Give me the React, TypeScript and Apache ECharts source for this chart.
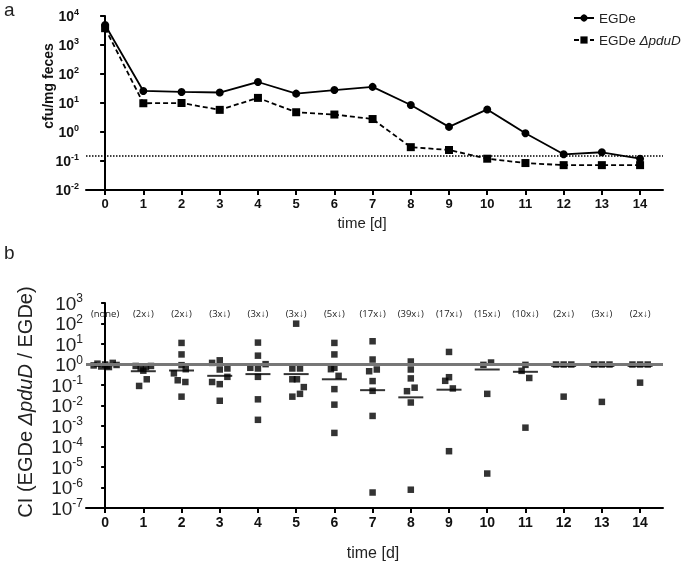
import React, { useEffect, useRef } from "react";
import * as echarts from "echarts";

const days = [0, 1, 2, 3, 4, 5, 6, 7, 8, 9, 10, 11, 12, 13, 14];
const egde = [4900, 26, 24, 23, 53, 21, 28, 36, 8.5, 1.5, 6, 0.9, 0.17, 0.2, 0.12];
const pduD = [3800, 9.8, 10, 5.8, 15, 4.8, 4.0, 2.8, 0.3, 0.24, 0.12, 0.085, 0.072, 0.072, 0.072];
const detectionLimit = 0.15;

const ciValues: number[][] = [
  [0.9, 1.1, 0.8, 1.0, 0.75, 1.2, 0.95, 0.85],
  [0.85, 0.7, 0.5, 0.75, 0.85, 0.19, 0.09],
  [11.3, 3.1, 0.93, 0.59, 0.37, 0.17, 0.14, 0.027],
  [1.2, 1.6, 0.57, 0.64, 0.14, 0.11, 0.017, 0.25],
  [11.7, 2.7, 1.04, 0.69, 0.64, 0.25, 0.02, 0.002],
  [98, 0.64, 0.64, 0.19, 0.19, 0.079, 0.037, 0.027],
  [11.3, 3.1, 0.69, 0.59, 0.28, 0.063, 0.011, 0.00046],
  [13.6, 1.75, 0.47, 0.57, 0.155, 0.052, 0.0031, 5.7e-7],
  [1.4, 0.57, 0.21, 0.05, 0.074, 0.014, 7.8e-7],
  [4.1, 0.24, 0.16, 0.068, 5.9e-5],
  [0.96, 1.25, 0.037, 4.8e-6],
  [0.96, 0.49, 0.22, 0.00083],
  [1.0, 1.0, 1.0, 0.027],
  [1.0, 1.0, 1.0, 0.015],
  [1.0, 1.0, 1.0, 0.13],
];
const ciOffsets: number[][] = [
  [-0.3, -0.2, -0.1, 0, 0.1, 0.2, 0.3, 0.05],
  [-0.2, -0.07, 0, 0.07, 0.2, 0.09, -0.11],
  [0, 0, 0, 0.11, -0.2, -0.1, 0.1, 0],
  [-0.2, 0, 0, 0.2, -0.2, 0, 0, 0.2],
  [0, 0, 0.2, -0.2, 0, 0, 0, 0],
  [0, -0.1, 0.1, -0.1, 0.02, 0.2, 0.1, -0.1],
  [0, 0, 0, -0.09, 0.11, 0, 0, 0],
  [0, 0, -0.09, 0.11, 0, 0, 0, 0],
  [0, 0, 0, -0.1, 0.1, 0, 0],
  [0, 0, -0.1, 0.1, 0],
  [-0.1, 0.1, 0, 0],
  [0, -0.1, 0.1, 0],
  [-0.2, 0, 0.2, 0],
  [-0.2, 0, 0.2, 0],
  [-0.2, 0, 0.2, 0],
];
const ciMedians = [0.93, 0.47, 0.51, 0.28, 0.34, 0.34, 0.19, 0.056, 0.025, 0.059, 0.57, 0.44, 0.85, 0.85, 0.85];
const ciNotes = ["(none)", "(2x↓)", "(2x↓)", "(3x↓)", "(3x↓)", "(3x↓)", "(5x↓)", "(17x↓)", "(39x↓)", "(17x↓)", "(15x↓)", "(10x↓)", "(2x↓)", "(3x↓)", "(2x↓)"];

const FONT = "'Liberation Sans', Arial, sans-serif";

const powLabel = (v: number) => {
  const e = Math.round(Math.log10(v));
  return `{b|10}{s|${e}}`;
};

export default function App() {
  const ref = useRef<HTMLDivElement>(null);
  useEffect(() => {
    if (!ref.current) return;
    const chart = echarts.init(ref.current, null, { renderer: "svg" });
    const xBase = (grid: number, fontSize: number) => ({
      type: "value",
      gridIndex: grid,
      min: -0.5,
      max: 14.6,
      splitLine: { show: false },
      axisLine: { show: true, lineStyle: { color: "#000", width: 2 } },
      axisTick: { show: true, customValues: days, length: 5, lineStyle: { color: "#000", width: 2 } },
      axisLabel: { customValues: days, color: "#111", fontWeight: "bold", fontSize, fontFamily: FONT, margin: 7 },
    });
    const option: any = {
      animation: false,
      textStyle: { fontFamily: FONT },
      grid: [
        { left: 86, right: 22, top: 16, height: 174 },
        { left: 86, right: 22, top: 303, height: 205 },
      ],
      xAxis: [
        xBase(0, 13),
        xBase(1, 14),
        {
          type: "value",
          gridIndex: 1,
          position: "top",
          min: -0.5,
          max: 14.6,
          splitLine: { show: false },
          axisLine: { show: false },
          axisTick: { show: false },
          axisLabel: {
            inside: true,
            customValues: days,
            formatter: (v: number) => ciNotes[Math.round(v)] ?? "",
            fontSize: 9.5,
            color: "#222",
            fontFamily: "'Open Sans', sans-serif",
            margin: 5,
          },
        },
      ],
      yAxis: [
        {
          type: "log",
          gridIndex: 0,
          min: 0.01,
          max: 10000,
          interval: 1,
          splitLine: { show: false },
          axisLine: { show: true, lineStyle: { color: "#000", width: 2 } },
          axisTick: { show: true, length: 5, lineStyle: { color: "#000", width: 2 } },
          axisLabel: {
            formatter: powLabel,
            margin: 7,
            rich: {
              b: { fontSize: 14, fontWeight: "bold", color: "#111", fontFamily: FONT, lineHeight: 17 },
              s: { fontSize: 9, fontWeight: "bold", color: "#111", fontFamily: FONT, verticalAlign: "top", lineHeight: 10 },
            },
          },
        },
        {
          type: "log",
          gridIndex: 1,
          min: 1e-7,
          max: 1000,
          interval: 1,
          splitLine: { show: false },
          axisLine: { show: true, lineStyle: { color: "#000", width: 2 } },
          axisTick: { show: true, length: 4, lineStyle: { color: "#000", width: 2 } },
          axisLabel: {
            formatter: powLabel,
            margin: 3,
            rich: {
              b: { fontSize: 19, color: "#222", fontFamily: FONT, lineHeight: 22 },
              s: { fontSize: 12, color: "#222", fontFamily: FONT, verticalAlign: "top", lineHeight: 12 },
            },
          },
        },
      ],
      legend: {
        orient: "vertical",
        left: 568,
        top: 6,
        itemWidth: 20,
        itemHeight: 9,
        itemGap: 8,
        data: ["EGDe", "EGDe ΔpduD"],
        formatter: (name: string) => (name.indexOf("Δ") >= 0 ? "{n|EGDe }{i|ΔpduD}" : "{n|EGDe}"),
        textStyle: {
          rich: {
            n: { fontSize: 13.5, color: "#222", fontFamily: FONT },
            i: { fontSize: 13.5, color: "#222", fontFamily: FONT, fontStyle: "italic" },
          },
        },
      },
      series: [
        {
          name: "EGDe",
          type: "line",
          xAxisIndex: 0,
          yAxisIndex: 0,
          data: days.map((d, i) => [d, egde[i]]),
          symbol: "circle",
          symbolSize: 8,
          lineStyle: { color: "#000", width: 1.8 },
          itemStyle: { color: "#000" },
          markLine: {
            silent: true,
            symbol: "none",
            label: { show: false },
            lineStyle: { color: "#000", type: "dotted", width: 1.5 },
            data: [{ yAxis: detectionLimit }],
          },
        },
        {
          name: "EGDe ΔpduD",
          type: "line",
          xAxisIndex: 0,
          yAxisIndex: 0,
          data: days.map((d, i) => [d, pduD[i]]),
          symbol: "rect",
          symbolSize: 8,
          lineStyle: { color: "#000", width: 1.8, type: [5, 3] },
          itemStyle: { color: "#000" },
        },
        {
          name: "CI",
          type: "scatter",
          xAxisIndex: 1,
          yAxisIndex: 1,
          data: ciValues.flatMap((vals, d) => vals.map((v, j) => [d + ciOffsets[d][j], v])),
          symbol: "rect",
          symbolSize: 6.5,
          itemStyle: { color: "#000" },
          z: 3,
          markLine: {
            silent: true,
            symbol: "none",
            label: { show: false },
            lineStyle: { color: "#777", type: "solid", width: 3 },
            data: [{ yAxis: 1 }],
          },
        },
        {
          name: "median",
          type: "scatter",
          xAxisIndex: 1,
          yAxisIndex: 1,
          data: days.map((d) => [d, ciMedians[d]]),
          symbol: "rect",
          symbolSize: [25, 2],
          itemStyle: { color: "#000" },
          z: 2,
        },
      ],
      graphic: [
        { type: "text", left: 4, top: 0, style: { text: "a", fontSize: 19, fill: "#222", fontFamily: FONT } },
        { type: "text", left: 4, top: 243, style: { text: "b", fontSize: 19, fill: "#222", fontFamily: FONT } },
        {
          type: "text",
          x: 48,
          y: 86,
          rotation: Math.PI / 2,
          style: { text: "cfu/mg feces", fontSize: 14, fontWeight: "bold", fill: "#111", fontFamily: FONT, align: "center", verticalAlign: "middle" },
        },
        {
          type: "text",
          x: 362,
          y: 222,
          style: { text: "time [d]", fontSize: 15, fill: "#222", fontFamily: FONT, align: "center", verticalAlign: "middle" },
        },
        {
          type: "text",
          x: 373,
          y: 552,
          style: { text: "time [d]", fontSize: 16, fill: "#222", fontFamily: FONT, align: "center", verticalAlign: "middle" },
        },
        {
          type: "text",
          x: 25,
          y: 402,
          rotation: Math.PI / 2,
          style: {
            text: "{n|CI (EGDe }{i|ΔpduD}{n| / EGDe)}",
            align: "center",
            verticalAlign: "middle",
            rich: {
              n: { fontSize: 20, fill: "#222", fontFamily: FONT },
              i: { fontSize: 20, fill: "#222", fontFamily: FONT, fontStyle: "italic" },
            },
          },
        },
      ],
    };
    chart.setOption(option);
    return () => chart.dispose();
  }, []);
  return <div ref={ref} style={{ position: "fixed", left: 0, top: 0, width: 685, height: 561 }} />;
}
